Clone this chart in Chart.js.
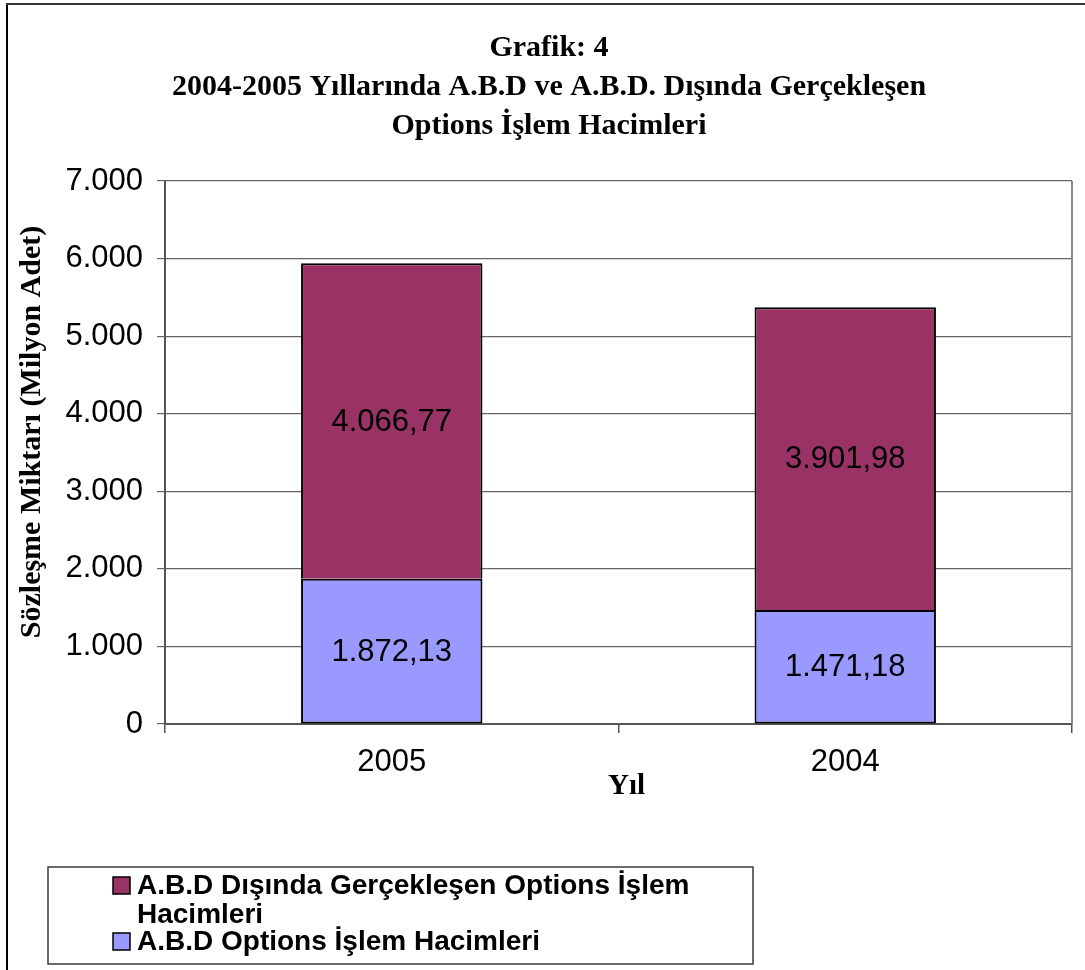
<!DOCTYPE html>
<html lang="tr">
<head>
<meta charset="utf-8">
<title>Grafik 4 - Options İşlem Hacimleri</title>
<script src="https://cdn.jsdelivr.net/npm/chart.js@4.4.1/dist/chart.umd.min.js"></script>
<style>
  html, body { margin: 0; padding: 0; background: #ffffff; }
  #wrap { width: 1085px; height: 970px; position: relative; }
</style>
</head>
<body>
<div id="wrap"><canvas id="chart" width="1085" height="970"></canvas></div>
<script>
// Years on the category axis
const years = ['2005', '2004'];
// Option volumes, million contracts
const usVolumes = [1872.13, 1471.18];
const nonUsVolumes = [4066.77, 3901.98];
// Value axis ticks
const yTicks = [0, 1000, 2000, 3000, 4000, 5000, 6000, 7000];

const titleLines = [
  'Grafik: 4',
  '2004-2005 Yıllarında A.B.D ve A.B.D. Dışında Gerçekleşen',
  'Options İşlem Hacimleri'
];
const yTitle = 'Sözleşme Miktarı (Milyon Adet)';
const xTitle = 'Yıl';
const usLabel = 'A.B.D Options İşlem Hacimleri';
const nonUsLabel = 'A.B.D Dışında Gerçekleşen Options İşlem Hacimleri';

const SANS = '"Liberation Sans", Arial, sans-serif';
const SERIF = '"Liberation Serif", "Times New Roman", serif';

// Turkish number format: 1.872,13 / 7.000
function trNumber(v, decimals) {
  const fixed = Math.abs(v).toFixed(decimals);
  const parts = fixed.split('.');
  const intPart = parts[0].replace(/\B(?=(\d{3})+(?!\d))/g, '.');
  return (v < 0 ? '-' : '') + intPart + (decimals > 0 ? ',' + parts[1] : '');
}

function wrapText(ctx, text, maxWidth) {
  const words = text.split(' ');
  const lines = [];
  let line = '';
  for (const w of words) {
    const test = line ? line + ' ' + w : w;
    if (ctx.measureText(test).width > maxWidth && line) {
      lines.push(line);
      line = w;
    } else {
      line = test;
    }
  }
  if (line) lines.push(line);
  return lines;
}

// Page frame, titles, axis titles, plot border, value labels and legend
const decorations = {
  id: 'decorations',
  beforeDraw(chart) {
    const ctx = chart.ctx;
    ctx.save();
    ctx.fillStyle = '#ffffff';
    ctx.fillRect(0, 0, chart.width, chart.height);
    // outer frame (left and top edges)
    ctx.strokeStyle = '#000000';
    ctx.lineWidth = 2;
    ctx.beginPath();
    ctx.moveTo(7, chart.height);
    ctx.lineTo(7, 4);
    ctx.stroke();
    ctx.strokeStyle = '#333333';
    ctx.beginPath();
    ctx.moveTo(6, 4);
    ctx.lineTo(chart.width, 4);
    ctx.stroke();
    ctx.restore();
  },
  afterDraw(chart) {
    const ctx = chart.ctx;
    const area = chart.chartArea;
    ctx.save();

    // plot area right border
    ctx.strokeStyle = '#8a8a8a';
    ctx.lineWidth = 2;
    ctx.beginPath();
    ctx.moveTo(area.right, area.top);
    ctx.lineTo(area.right, area.bottom);
    ctx.stroke();

    // chart title
    ctx.fillStyle = '#000000';
    ctx.textAlign = 'center';
    ctx.textBaseline = 'middle';
    ctx.font = 'bold 30px ' + SERIF;
    const titleY = [48, 87, 126];
    titleLines.forEach((t, i) => ctx.fillText(t, 549, titleY[i]));

    // x axis title
    ctx.font = 'bold 29px ' + SERIF;
    ctx.fillText(xTitle, (area.left + area.right) / 2 + 8, 787);

    // y axis title
    ctx.font = 'bold 30px ' + SERIF;
    ctx.save();
    ctx.translate(32, 432);
    ctx.rotate(-Math.PI / 2);
    ctx.fillText(yTitle, 0, 0);
    ctx.restore();

    // legend
    const lx = 48, ly = 867, lw = 705, lh = 97;
    ctx.strokeStyle = '#3a3a3a';
    ctx.lineWidth = 1.5;
    ctx.strokeRect(lx, ly, lw, lh);
    ctx.font = 'bold 28px ' + SANS;
    ctx.textAlign = 'left';
    ctx.textBaseline = 'middle';
    const entries = chart.data.datasets.slice().reverse();
    let y = 886;
    entries.forEach((ds) => {
      ctx.fillStyle = ds.backgroundColor;
      ctx.fillRect(113, y - 9, 17, 17);
      ctx.strokeStyle = '#000000';
      ctx.lineWidth = 1.5;
      ctx.strokeRect(113, y - 9, 17, 17);
      ctx.fillStyle = '#000000';
      const lines = wrapText(ctx, ds.label, 580);
      lines.forEach((ln, i) => {
        ctx.fillText(ln, 137, y + i * 29);
      });
      y += lines.length * 29 - 2;
    });

    ctx.restore();
  },
  afterDatasetsDraw(chart) {
    const ctx = chart.ctx;
    ctx.save();
    ctx.font = '31px ' + SANS;
    ctx.fillStyle = '#000000';
    ctx.textAlign = 'center';
    ctx.textBaseline = 'middle';
    chart.data.datasets.forEach((ds, di) => {
      const meta = chart.getDatasetMeta(di);
      meta.data.forEach((bar, i) => {
        const cy = (bar.y + bar.base) / 2;
        ctx.fillText(trNumber(ds.data[i], 2), bar.x, cy + 1);
      });
    });
    ctx.restore();
  }
};

const ctx = document.getElementById('chart').getContext('2d');
new Chart(ctx, {
  type: 'bar',
  data: {
    labels: years,
    datasets: [
      {
        label: usLabel,
        data: usVolumes,
        backgroundColor: '#9999FF',
        borderColor: '#000000',
        borderWidth: 2,
        borderSkipped: false
      },
      {
        label: nonUsLabel,
        data: nonUsVolumes,
        backgroundColor: '#993366',
        borderColor: '#000000',
        borderWidth: 2,
        borderSkipped: 'bottom'
      }
    ]
  },
  options: {
    responsive: false,
    animation: false,
    devicePixelRatio: 1,
    layout: { padding: { left: 0, right: 13, top: 181, bottom: 186 } },
    datasets: { bar: { barPercentage: 0.4, categoryPercentage: 1.0 } },
    plugins: {
      legend: { display: false },
      title: { display: false },
      tooltip: { enabled: false }
    },
    scales: {
      x: {
        stacked: true,
        offset: true,
        afterFit(scale) { scale.height = 60; },
        grid: {
          display: true,
          drawOnChartArea: false,
          drawTicks: true,
          tickLength: 9,
          color: '#555555',
          lineWidth: 1.5
        },
        border: { display: true, color: '#555555', width: 2 },
        ticks: {
          color: '#000000',
          font: { family: SANS, size: 31 },
          padding: 11
        }
      },
      y: {
        stacked: true,
        min: yTicks[0],
        max: yTicks[yTicks.length - 1],
        afterFit(scale) { scale.width = 165; },
        afterBuildTicks(scale) { scale.ticks = yTicks.map(v => ({ value: v })); },
        grid: {
          color: '#666666',
          lineWidth: 1.2,
          drawTicks: true,
          tickLength: 8
        },
        border: { display: true, color: '#555555', width: 2 },
        ticks: {
          color: '#000000',
          font: { family: SANS, size: 31 },
          padding: 14,
          callback: (v) => trNumber(v, 0)
        }
      }
    }
  },
  plugins: [decorations]
});
</script>
</body>
</html>
